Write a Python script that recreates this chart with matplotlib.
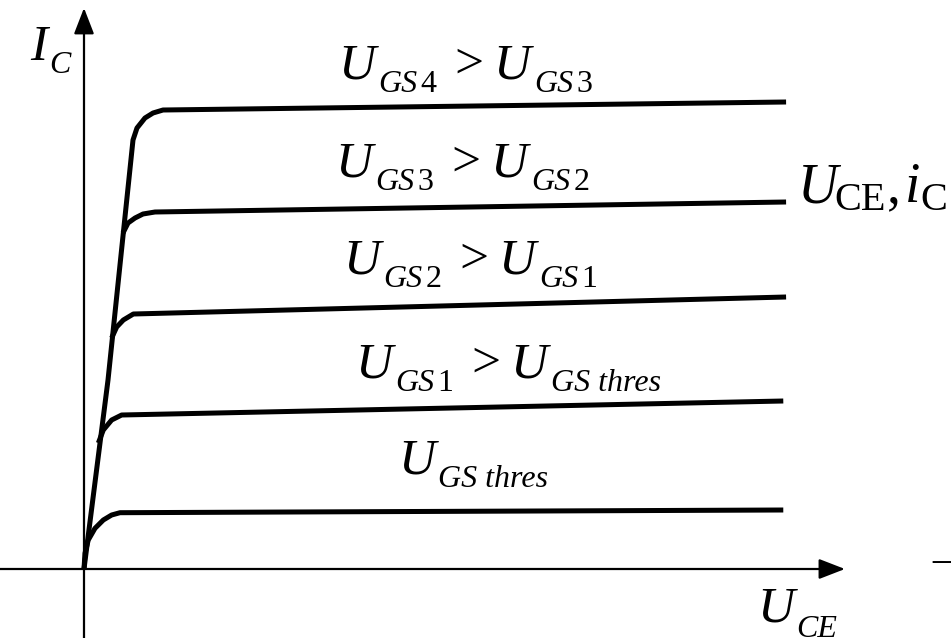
import matplotlib
matplotlib.use("Agg")
import matplotlib.pyplot as plt
from matplotlib.transforms import offset_copy

# collector-emitter voltage U_CE and collector current I_C along each curve
uce_thres = [0.0, 0.014, 0.061, 0.157, 0.276, 0.395, 0.514, 9.99]
ic_thres = [0.0, 0.157, 0.29, 0.407, 0.49, 0.54, 0.563, 0.59]
uce_gs1 = [0.205, 0.276, 0.395, 0.538, 9.99]
ic_gs1 = [1.26, 1.39, 1.49, 1.54, 1.68]
uce_gs2 = [0.395, 0.467, 0.562, 0.705, 10.03]
ic_gs2 = [2.31, 2.42, 2.49, 2.55, 2.72]
uce_gs3 = [0.557, 0.629, 0.729, 0.843, 1.014, 10.03]
ic_gs3 = [3.36, 3.46, 3.51, 3.55, 3.57, 3.67]
# top curve also carries the steep ohmic ramp from the origin
uce_gs4 = [0.0, 0.343, 0.700, 0.757, 0.871, 0.986, 1.129, 10.03]
ic_gs4 = [0.0, 1.89, 4.29, 4.41, 4.51, 4.56, 4.59, 4.67]

curves = [(uce_thres, ic_thres), (uce_gs1, ic_gs1), (uce_gs2, ic_gs2),
          (uce_gs3, ic_gs3), (uce_gs4, ic_gs4)]

BIG, SMALL, DROP = 37, 23, 14
FONT = "Liberation Serif"

fig = plt.figure(figsize=(9.51, 6.38), dpi=100)
ax = fig.add_axes([0, 0, 1, 1])
ax.set_xlim(-1.2, 12.386)
ax.set_ylim(-0.69, 5.69)
ax.axis("off")

for u, i in curves:
    ax.plot(u, i, color="black", lw=3.6, solid_joinstyle="round",
            solid_capstyle="butt")

# axes with arrow heads
arrow = dict(arrowstyle="-|>,head_length=0.8,head_width=0.31", color="black",
             lw=1.6, shrinkA=0, shrinkB=0, mutation_scale=20)
ax.annotate("", xy=(0, 5.61), xytext=(0, -0.75), arrowprops=arrow)
ax.annotate("", xy=(10.871, 0), xytext=(-1.25, 0), arrowprops=arrow)


def formula(x, y, parts):
    """Write text pieces one after another, subscripts dropped below."""
    r = fig.canvas.get_renderer()
    dx = 0.0
    for s, size, style, drop, gap in parts:
        dx += gap
        tr = offset_copy(ax.transData, fig=fig, x=dx, y=-drop, units="dots")
        t = ax.text(x, y, s, transform=tr, fontsize=size, style=style,
                    family=FONT, ha="left", va="baseline")
        dx += t.get_window_extent(r).width


def compare(a, b, x, y):
    parts = [("U", BIG, "italic", 0, 0), ("GS", SMALL, "italic", DROP, 3)]
    if a:
        parts.append((a, SMALL, "normal", DROP, 3))
    parts += [(">", BIG, "normal", 0, 18), ("U", BIG, "italic", 0, 10)]
    if b.isdigit():
        parts += [("GS", SMALL, "italic", DROP, 4),
                  (b, SMALL, "normal", DROP, 3)]
    else:
        parts.append(("GS " + b, SMALL, "italic", DROP, 4))
    formula(x, y, parts)


compare("4", "3", 3.63, 4.91)
compare("3", "2", 3.586, 3.93)
compare("2", "1", 3.70, 2.96)
compare("1", "thres", 3.871, 1.92)
formula(4.486, 0.96, [("U", BIG, "italic", 0, 0),
                      ("GS thres", SMALL, "italic", DROP, 3)])

formula(-0.771, 5.09, [("I", BIG, "italic", 0, 0),
                       ("C", SMALL, "italic", 13, 2)])
formula(9.614, -0.53, [("U", BIG, "italic", 0, 0),
                       ("CE", SMALL, "italic", 15, 2)])

# curve-family caption on the right
formula(10.2, 3.67, [("U", 40, "italic", 0, 0),
                     ("CE", 29, "normal", 8, -4),
                     (",", 40, "normal", 0, 1),
                     ("i", 40, "italic", 0, 4),
                     ("C", 29, "normal", 8, 1)])
ax.text(12.114, -0.05, "\u2013", fontsize=BIG, family=FONT,
        ha="left", va="baseline")

fig.savefig("out.png", dpi=100)
